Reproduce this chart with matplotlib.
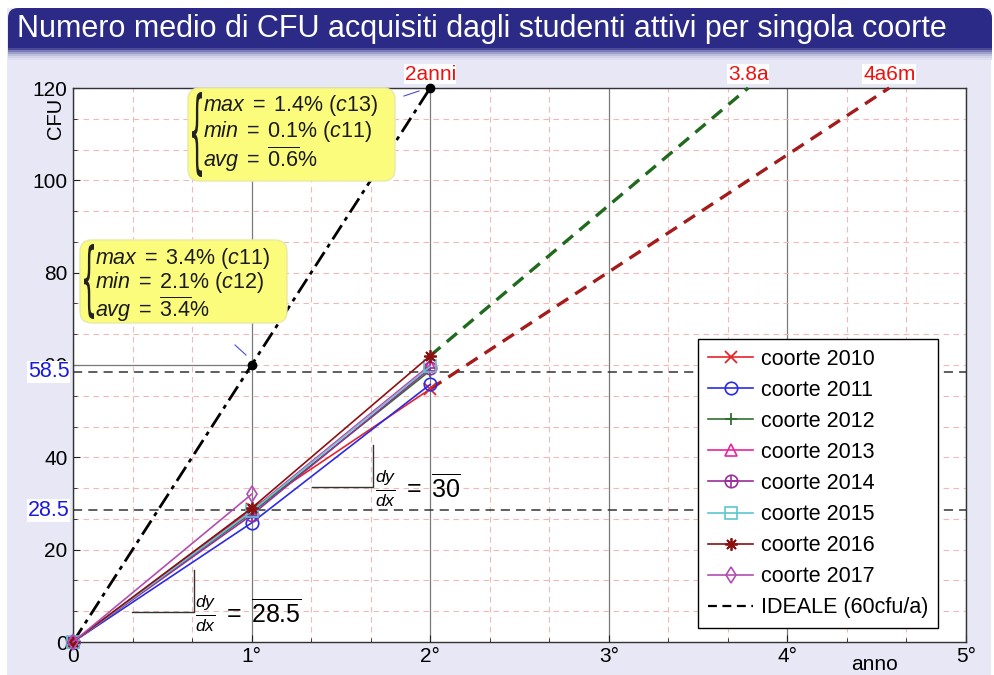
import matplotlib
matplotlib.use('Agg')
import matplotlib.pyplot as plt
from matplotlib.patches import FancyBboxPatch, Rectangle, PathPatch
from matplotlib.lines import Line2D
from matplotlib.textpath import TextPath
from matplotlib.font_manager import FontProperties
from matplotlib.transforms import Affine2D, IdentityTransform, blended_transform_factory
from matplotlib.legend_handler import HandlerTuple
from matplotlib.ticker import MultipleLocator, FixedLocator

plt.rcParams['font.family'] = ['Liberation Sans', 'DejaVu Sans']
plt.rcParams['mathtext.fontset'] = 'custom'
plt.rcParams['mathtext.rm'] = 'Liberation Sans'
plt.rcParams['mathtext.it'] = 'Liberation Sans:italic'
plt.rcParams['mathtext.bf'] = 'Liberation Sans:bold'

# ---------------- data ----------------
title = "Numero medio di CFU acquisiti dagli studenti attivi per singola coorte"
years = [0, 1, 2]
cohort_labels = ['coorte 2010', 'coorte 2011', 'coorte 2012', 'coorte 2013',
                 'coorte 2014', 'coorte 2015', 'coorte 2016', 'coorte 2017']
cfu_2010 = [0, 28.8, 54.8]
cfu_2011 = [0, 25.8, 55.8]
cfu_2012 = [0, 28.0, 58.8]
cfu_2013 = [0, 28.5, 60.0]
cfu_2014 = [0, 27.5, 59.3]
cfu_2015 = [0, 28.3, 59.7]
cfu_2016 = [0, 29.0, 62.0]
cfu_2017 = [0, 32.0]
ideal_x = [0, 1, 2]
ideal_y = [0, 60, 120]
ideal_label = 'IDEALE (60cfu/a)'
avg_levels = [28.5, 58.5]
avg_labels = ['28.5', '58.5']
proj_end_x = [3.78, 4.57]          # fastest / slowest cohort reaching 120 CFU
proj_labels = ['3.8a', '4a6m']
target_cfu = 120
ideal_label_top = '2anni'
xtick_vals = [0, 1, 2, 3, 4, 5]
xtick_labels = ['0', '1°', '2°', '3°', '4°', '5°']
ytick_vals = [0, 20, 40, 60, 80, 100, 120]
box1_lines = [r'$max\;=\;1.4\%\ (c13)$', r'$min\;=\;0.1\%\ (c11)$', r'$avg\;=\;\overline{0.6}\%$']
box2_lines = [r'$max\;=\;3.4\%\ (c11)$', r'$min\;=\;2.1\%\ (c12)$', r'$avg\;=\;\overline{3.4}\%$']

series = [cfu_2010, cfu_2011, cfu_2012, cfu_2013, cfu_2014, cfu_2015, cfu_2016, cfu_2017]
colors = ['#e5252a', '#2b2be6', '#2f6f2f', '#e8259c', '#9a2e9a', '#5cc7d0', '#8b1010', '#b24db2']
markers = ['x', 'o', '+', '^', 'o', 's', (8, 2, 0), 'd']

W, H = 994, 675
def fx(px):
    return px / W
def fy(py):
    return 1 - py / H

fig = plt.figure(figsize=(W / 100, H / 100), dpi=100, facecolor='white')

# background panel
fig.add_artist(Rectangle((fx(7), 0), fx(991) - fx(7), fy(8), transform=fig.transFigure,
                         fc='#e7e7f5', ec='none', zorder=-20))
# title bar
bar = FancyBboxPatch((8, H - 48), 984, 40, boxstyle='round,pad=0,rounding_size=10',
                     transform=IdentityTransform(), fc='#2b2a86', ec='none', zorder=-10)
fig.add_artist(bar)
fig.add_artist(Rectangle((8, H - 48), 984, 15, transform=IdentityTransform(),
                         fc='#2b2a86', ec='none', zorder=-10))
shade = ['#4a4a98', '#7a7ab4', '#a0a0cc', '#bdbddc', '#d2d2ea', '#dfdff2']
for i, c in enumerate(shade):
    fig.add_artist(Rectangle((8, H - 50 - 2 * i), 984, 2, transform=IdentityTransform(),
                             fc=c, ec='none', zorder=-15))
fig.text(fx(17), fy(29), title, color='white', fontsize=22, va='center', ha='left',
         family=['Liberation Sans Narrow', 'Liberation Sans', 'DejaVu Sans'])

# axes
ax = fig.add_axes([fx(73), fy(642), fx(966) - fx(73), fy(88) - fy(642)])
ax.set_xlim(0, 5)
ax.set_ylim(0, 120)
ax.set_facecolor('white')
ax.xaxis.set_major_locator(FixedLocator(xtick_vals))
ax.set_xticklabels(xtick_labels)
ax.yaxis.set_major_locator(FixedLocator(ytick_vals))
ax.xaxis.set_minor_locator(MultipleLocator(1 / 3))
ax.yaxis.set_minor_locator(MultipleLocator(20 / 3))
ax.tick_params(which='both', direction='in', labelsize=15, colors='#222222')
ax.tick_params(which='major', length=5)
ax.tick_params(which='minor', length=3)
ax.tick_params(axis='both', labelcolor='black')
ax.tick_params(axis='y', pad=4)
for s in ax.spines.values():
    s.set_color('#333333')
    s.set_linewidth(1.0)

ax.grid(axis='x', which='major', color='#7a7a7a', ls='-', lw=0.9)
ax.grid(axis='x', which='minor', color='#f2b8b8', ls=(0, (5, 4)), lw=0.8)
ax.grid(axis='y', which='both', color='#f2b8b8', ls=(0, (5, 4)), lw=0.8)
ax.set_axisbelow(True)

# ideal reference lines
ax.plot([ideal_x[0], ideal_x[1]], [ideal_y[1], ideal_y[1]], color='#7a7a7a', lw=0.9, zorder=1)
trans_left = blended_transform_factory(ax.transAxes, ax.transData)
for v, lab in zip(avg_levels, avg_labels):
    ax.axhline(v, color='#333333', ls=(0, (6, 4)), lw=1.1, zorder=2)
    ax.text(-0.004, v, lab, transform=trans_left, ha='right', va='center', color='#1a1adf',
            fontsize=15.5, zorder=10, clip_on=False,
            bbox=dict(fc='white', ec='none', pad=0.5))

# projections
last_vals = [s[-1] for s in series if len(s) == 3]
start_hi = max(last_vals)
start_lo = min(last_vals)
ax.plot([years[-1], proj_end_x[0]], [start_hi, target_cfu], color='#1f6a1f', ls=(0, (4, 2.5)),
        lw=2.4, zorder=3, clip_on=False)
ax.plot([years[-1], proj_end_x[1]], [start_lo, target_cfu], color='#a31c1c', ls=(0, (4, 2.5)),
        lw=2.4, zorder=3, clip_on=False)

# ideal line
ax.plot(ideal_x, ideal_y, color='black', ls=(0, (6, 2, 1.5, 2)), lw=2.0, zorder=4, clip_on=False)
ax.plot(ideal_x[1:], ideal_y[1:], 'o', color='black', ms=6, zorder=5, clip_on=False)

# top labels
for xv, lab in zip([ideal_x[-1]] + proj_end_x, [ideal_label_top] + proj_labels):
    ax.annotate(lab, (xv, target_cfu), xytext=(0, 3), textcoords='offset points',
                ha='center', va='bottom', color='#ee1111', fontsize=15, annotation_clip=False,
                bbox=dict(fc='white', ec='none', pad=0.5))

# cohorts
handles = []
for s, c, m, lab in zip(series, colors, markers, cohort_labels):
    xs = years[:len(s)]
    if m in ('x', '+') or isinstance(m, tuple):
        ln, = ax.plot(xs, s, color=c, marker=m, ms=9, mew=1.3, lw=1.2, zorder=6, clip_on=False)
        handles.append(ln)
    else:
        ms = 9 if m != 'd' else 8
        ln, = ax.plot(xs, s, color=c, marker=m, ms=ms, mfc='none', mew=1.2, lw=1.2, zorder=6,
                      clip_on=False)
        if lab == 'coorte 2014':
            pl, = ax.plot(xs, s, color=c, marker='+', ms=9, mew=1.2, ls='none', zorder=6,
                          clip_on=False)
            handles.append((ln, pl))
        else:
            handles.append(ln)
ideal_handle = Line2D([], [], color='black', ls=(0, (4, 2.5)), lw=1.6)
leg = ax.legend(handles + [ideal_handle], cohort_labels + [ideal_label],
                handler_map={tuple: HandlerTuple(ndivide=1)},
                loc='lower right', bbox_to_anchor=(0.9686, 0.025), borderaxespad=0,
                fontsize=15.5, frameon=True, fancybox=False, framealpha=1, edgecolor='black',
                handlelength=2.1, handletextpad=0.35, labelspacing=0.47, borderpad=0.45,
                numpoints=1)
leg.get_frame().set_linewidth(1.0)
leg.set_zorder(20)

# slope annotations
slope1 = avg_levels[0] / (years[1] - years[0])
slope2 = (avg_levels[1] - avg_levels[0]) / (years[2] - years[1])
ax.plot([0.33, 0.675, 0.675], [6.5, 6.5, 15.6], color='#333333', lw=1.0, zorder=7)
ax.text(0.685, 6.3, r'$\frac{dy}{dx}\;=\;\overline{%s}$' % f'{slope1:g}', fontsize=18,
        ha='left', va='center', zorder=8)
ax.plot([1.34, 1.68, 1.68], [33.6, 33.6, 42.7], color='#333333', lw=1.0, zorder=7)
ax.text(1.69, 33.4, r'$\frac{dy}{dx}\;=\;\overline{%s}$' % f'{slope2:g}', fontsize=18,
        ha='left', va='center', zorder=8)

# pointer ticks
fig.add_artist(Line2D([235, 246], [H - 345, H - 355], transform=IdentityTransform(),
                      color='#4a4ae0', lw=0.8, zorder=30))
fig.add_artist(Line2D([404, 419], [H - 96, H - 91], transform=IdentityTransform(),
                      color='#4a4ae0', lw=0.8, zorder=30))

# yellow boxes with braces
brace_tp = TextPath((0, 0), '{', size=1, prop=FontProperties(family='DejaVu Sans'))
bb = brace_tp.get_extents()

def yellow_box(x0, y0, x1, y1, lines, line_y, text_x, brace_y0, brace_y1):
    box = FancyBboxPatch((x0, H - y1), x1 - x0, y1 - y0,
                         boxstyle='round,pad=0,rounding_size=12', transform=IdentityTransform(),
                         fc='#fcfc7c', ec='#e9e9a8', lw=1.0, zorder=40)
    fig.add_artist(box)
    bw, bh = 10, brace_y1 - brace_y0
    t = (Affine2D().translate(-bb.x0, -bb.y0).scale(bw / bb.width, bh / bb.height)
         .translate(x0 + 4, H - brace_y1))
    fig.add_artist(PathPatch(brace_tp, transform=t, fc='#222222', ec='none', zorder=41))
    for ln, ly in zip(lines, line_y):
        fig.text(fx(text_x), fy(ly), ln, fontsize=15.5, ha='left', va='baseline', zorder=42,
                 color='#1a1a1a')

yellow_box(188, 88, 395, 181, box1_lines, [111, 137, 167], 203, 92, 177)
yellow_box(80, 240, 287, 323, box2_lines, [264, 288, 317], 95, 244, 319)

# axis titles
fig.text(fx(55), fy(118), 'CFU', rotation=90, ha='center', va='center', fontsize=14.5)
fig.text(fx(875), fy(665), 'anno', ha='center', va='center', fontsize=15)

fig.savefig('out.png', dpi=100, facecolor=fig.get_facecolor())
